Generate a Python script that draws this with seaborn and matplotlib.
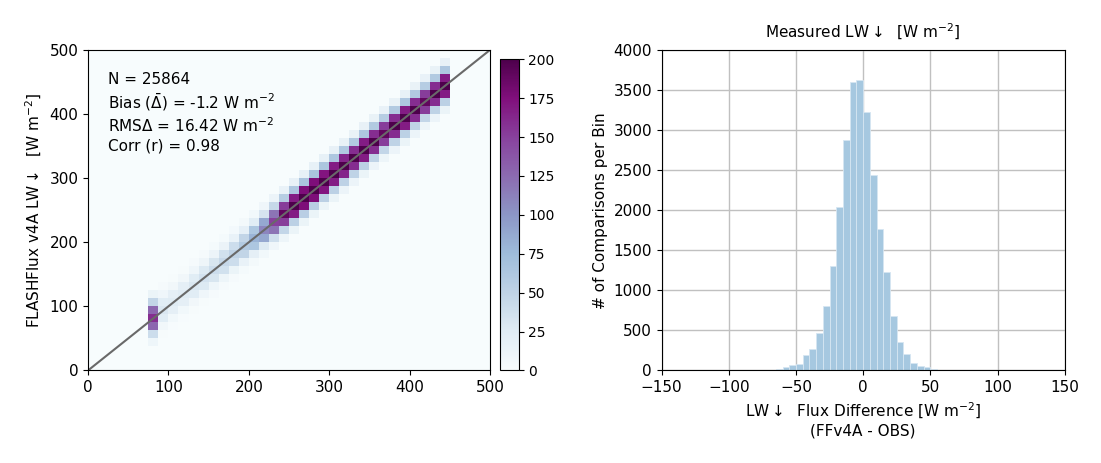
import numpy as np
import pandas as pd
import matplotlib
matplotlib.use("Agg")
import matplotlib.pyplot as plt
import seaborn as sns

# 2D histogram: 12.5 W bins; counts on the diagonal for x bins starting at 75
bin_width = 12.5
diag_start = 75.0
diag_counts = [160, 30, 25, 25, 30, 35, 40, 45, 50, 60,
               80, 110, 150, 190, 210, 220, 220, 215, 210, 205,
               200, 210, 200, 190, 200, 210, 200, 190, 200, 210]
# relative weight of neighbouring cells (offset -3..+3 bins in y)
offsets = [-3, -2, -1, 0, 1, 2, 3]
offset_weights = [0.06, 0.25, 0.8, 1.0, 0.8, 0.3, 0.08]

# difference histogram (FFv4A - OBS), 5 W bins
diff_edges_start = -75
diff_counts = [5, 10, 20, 40, 70, 80, 195, 270, 470, 810, 1300, 2040, 2880, 3600,
               3620, 3230, 2440, 1770, 1230, 680, 355, 210, 90, 60, 40, 20, 8, 3]

sns.set_style("ticks")
plt.rcParams.update({"axes.edgecolor": "black", "xtick.color": "black",
                     "ytick.color": "black", "text.color": "black",
                     "axes.labelcolor": "black", "font.size": 11})
fig = plt.figure(figsize=(11.01, 4.63), dpi=100)
ax1 = fig.add_axes([0.08, 0.2, 0.365, 0.692])
cax = fig.add_axes([0.454, 0.2, 0.017, 0.672])
ax2 = fig.add_axes([0.601, 0.2, 0.366, 0.692])

nb = int(500 / bin_width)
H = np.zeros((nb, nb))
for i, c in enumerate(diag_counts):
    xi = int(diag_start / bin_width) + i
    for o, w in zip(offsets, offset_weights):
        yi = xi + o
        if 0 <= yi < nb:
            H[yi, xi] = c * w
edges = np.arange(nb + 1) * bin_width
mesh = ax1.pcolormesh(edges, edges, H, cmap="BuPu", vmin=0, vmax=200)
ax1.plot([0, 500], [0, 500], color="dimgray", lw=1.5)
ax1.set_xlim(0, 500)
ax1.set_ylim(0, 500)
ax1.set_xticks(range(0, 501, 100))
ax1.set_yticks(range(0, 501, 100))
ax1.grid(True, color="#e8eef0", lw=0.6)
ax1.tick_params(labelsize=11)
ax1.set_ylabel("FLASHFlux v4A LW$\\downarrow$  [W m$^{-2}$]", fontsize=11)
ax1.text(25, 465, "N = 25864\nBias ($\\bar{\\Delta}$) = -1.2 W m$^{-2}$\n"
         "RMS$\\Delta$ = 16.42 W m$^{-2}$\nCorr (r) = 0.98",
         va="top", ha="left", fontsize=11, linespacing=1.25)
cb = fig.colorbar(mesh, cax=cax)
cb.set_ticks(range(0, 201, 25))
cb.ax.tick_params(labelsize=10)

diff_edges = [diff_edges_start + 5 * k for k in range(len(diff_counts) + 1)]
df = pd.DataFrame({"diff": [e + 2.5 for e in diff_edges[:-1]], "count": diff_counts})
sns.histplot(data=df, x="diff", weights="count", bins=diff_edges, ax=ax2,
             color="#a6c8e0", edgecolor="#d6e6f2", linewidth=0.6, alpha=1.0)
ax2.set_xlim(-150, 150)
ax2.set_ylim(0, 4000)
ax2.set_xticks(range(-150, 151, 50))
ax2.set_yticks(range(0, 4001, 500))
ax2.set_axisbelow(True)
ax2.grid(True, color="#c0c0c0", lw=1)
ax2.tick_params(labelsize=11)
ax2.set_ylabel("# of Comparisons per Bin", fontsize=11)
ax2.set_xlabel("LW$\\downarrow$  Flux Difference [W m$^{-2}$]\n(FFv4A - OBS)", fontsize=11)
ax2.set_title("Measured LW$\\downarrow$  [W m$^{-2}$]", fontsize=11, pad=9)

fig.savefig("out.png", dpi=100)
